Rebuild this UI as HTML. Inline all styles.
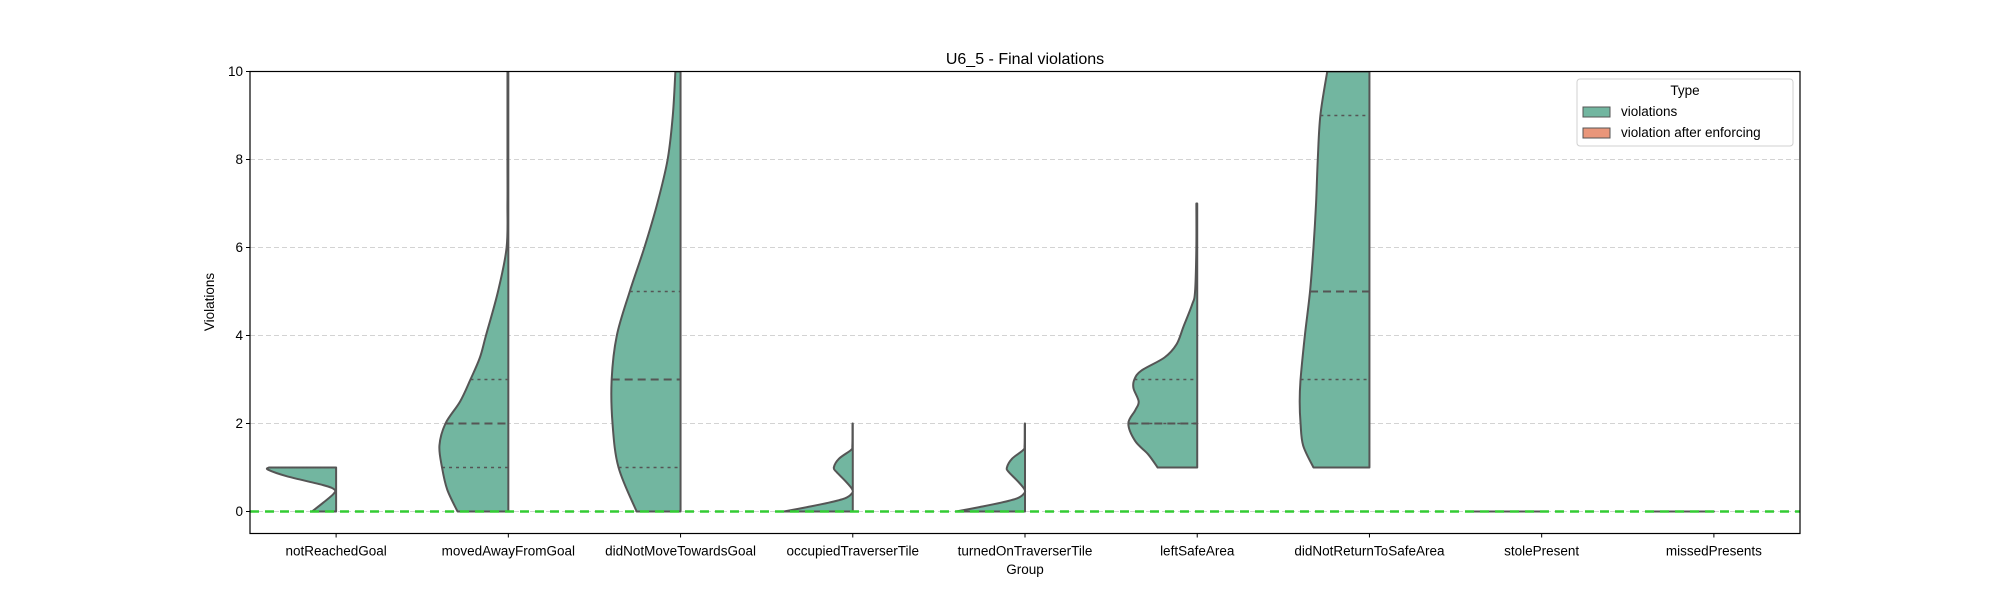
<!DOCTYPE html>
<html><head><meta charset="utf-8"><style>
html,body{margin:0;padding:0;background:#fff;}
svg{display:block;font-family:"Liberation Sans","DejaVu Sans",sans-serif;}
</style></head><body>
<svg id="chart" width="2000" height="600" viewBox="0 0 2000 600" xmlns="http://www.w3.org/2000/svg">
<defs><clipPath id="plotclip"><rect x="250" y="71.5" width="1550" height="462"/></clipPath></defs>
<text x="1025" y="64" text-anchor="middle" font-size="16" fill="#000">U6_5 - Final violations</text>
<g id="grid"></g>
<g id="violins" clip-path="url(#plotclip)"></g>
<g id="axes"></g>
<text x="1025" y="574" text-anchor="middle" font-size="13.5">Group</text>
<text transform="translate(214,302) rotate(-90)" text-anchor="middle" font-size="13.5">Violations</text>
<g>
<rect x="1577" y="79" width="216" height="67" rx="3" fill="#fff" fill-opacity="0.8" stroke="#d0d0d0"/>
<text x="1685" y="95" text-anchor="middle" font-size="13.5">Type</text>
<rect x="1583" y="107" width="27" height="10" fill="#72b6a0" stroke="#555"/>
<text x="1621" y="116" font-size="13.5">violations</text>
<rect x="1583" y="128" width="27" height="10" fill="#e9967a" stroke="#555"/>
<text x="1621" y="137" font-size="13.5">violation after enforcing</text>
</g>
</svg>
<script>
const categories = ["notReachedGoal","movedAwayFromGoal","didNotMoveTowardsGoal","occupiedTraverserTile","turnedOnTraverserTile","leftSafeArea","didNotReturnToSafeArea","stolePresent","missedPresents"];
const yTicks = [0,2,4,6,8,10];
// density profiles: y values and relative half-widths (0..1)
const profY = [
 [0,0.2,0.4,0.5,0.6,0.8,0.95,1],
 [0,0.5,1,1.5,2,2.5,3,3.5,4,5,6,7,8,10],
 [0,1,2,3,4,5,6,7,8,9,10],
 [0,0.1,0.2,0.3,0.4,0.5,0.7,0.9,1.0,1.2,1.4,1.5,2],
 [0,0.1,0.2,0.3,0.4,0.5,0.7,0.9,1.0,1.2,1.4,1.5,2],
 [1,1.3,1.6,2,2.3,2.5,2.8,3,3.2,3.5,3.8,4.2,4.7,5,6,7],
 [1,1.5,2,2.5,3,4,5,6,7,8,9,10],
 [0,0.001],
 [0,0.001]
];
const profW = [
 [0.28,0.15,0.03,0.02,0.15,0.57,0.79,0.78],
 [0.59,0.71,0.77,0.80,0.73,0.56,0.44,0.33,0.26,0.12,0.02,0.01,0.01,0.01],
 [0.51,0.72,0.79,0.80,0.74,0.59,0.42,0.27,0.15,0.09,0.06],
 [0.80,0.53,0.28,0.09,0.015,0.005,0.09,0.19,0.22,0.16,0.02,0.005,0.003],
 [0.80,0.53,0.28,0.09,0.015,0.005,0.09,0.19,0.21,0.15,0.02,0.005,0.003],
 [0.46,0.57,0.72,0.80,0.72,0.68,0.74,0.73,0.65,0.38,0.24,0.16,0.06,0.025,0.01,0.01],
 [0.65,0.77,0.80,0.81,0.80,0.75,0.69,0.65,0.62,0.60,0.57,0.49],
 [0.79,0.79],
 [0.79,0.79]
];
const q1 = [1,1,1,0,0,2,3,0,0];
const medians = [1,2,3,0,0,2,5,0,0];
const q3 = [1,3,5,0,0,3,9,0,0];

const X0=250, X1=1800, Y0=71.5, Y1=533.5, YMIN=-0.5, YMAX=10;
const band=(X1-X0)/categories.length, halfMax=band/2;
const xc=i=>X0+band*(i+0.5);
const ys=v=>Y1-(v-YMIN)/(YMAX-YMIN)*(Y1-Y0);
const NS="http://www.w3.org/2000/svg";
function mk(tag,attrs,parent){const e=document.createElementNS(NS,tag);for(const k in attrs)e.setAttribute(k,attrs[k]);parent.appendChild(e);return e;}
const grid=document.getElementById('grid'),vg=document.getElementById('violins'),ax=document.getElementById('axes');

yTicks.forEach(t=>{
 const g=mk('line',{x1:X0,x2:X1,y1:ys(t),y2:ys(t),stroke:'#d3d3d3','stroke-dasharray':'5,3','stroke-width':1},grid);
 
 
 const tk=mk('line',{x1:X0-4,x2:X0,y1:ys(t),y2:ys(t),stroke:'#000'},ax);
 
 
 const tl=mk('text',{x:X0-7,y:ys(t)+4.5,'text-anchor':'end','font-size':13.5},ax);
 tl.textContent=t;
 
 
});

function widthAt(i,y){const Y=profY[i],W=profW[i];if(y<=Y[0])return W[0];for(let k=1;k<Y.length;k++){if(y<=Y[k]){const f=(y-Y[k-1])/(Y[k]-Y[k-1]);return W[k-1]+f*(W[k]-W[k-1]);}}return W[W.length-1];}

// smooth path via Catmull-Rom through profile points
function smoothPath(pts){let d='';for(let k=0;k<pts.length-1;k++){const p0=pts[Math.max(0,k-1)],p1=pts[k],p2=pts[k+1],p3=pts[Math.min(pts.length-1,k+2)];
 const c1=[p1[0]+(p2[0]-p0[0])/6,p1[1]+(p2[1]-p0[1])/6],c2=[p2[0]-(p3[0]-p1[0])/6,p2[1]-(p3[1]-p1[1])/6];
 d+=' C'+c1[0]+','+c1[1]+' '+c2[0]+','+c2[1]+' '+p2[0]+','+p2[1];}return d;}

categories.forEach((c,i)=>{
 const cx=xc(i),Y=profY[i],W=profW[i];
 const pts=Y.map((y,k)=>[cx-W[k]*halfMax,ys(y)]);
 let d='M'+cx+','+ys(Y[0])+' L'+pts[0][0]+','+pts[0][1]+smoothPath(pts)+' L'+cx+','+ys(Y[Y.length-1])+' Z';
 const p=mk('path',{d:d,fill:'#72b6a0',stroke:'#555','stroke-width':2,'stroke-linejoin':'round'},vg);
 
 
 [[q1[i],'3,4',1.5,'q1'],[medians[i],'8,5',2,'median'],[q3[i],'3,4',1.5,'q3']].forEach(([v,da,sw,nm])=>{
  const w=widthAt(i,v);
  const l=mk('line',{x1:cx-w*halfMax,x2:cx,y1:ys(v),y2:ys(v),stroke:'#555','stroke-width':sw,'stroke-dasharray':da},vg);
  
  
 });
 const tk=mk('line',{x1:cx,x2:cx,y1:Y1,y2:Y1+4,stroke:'#000'},ax);
 
 
 const tl=mk('text',{x:cx,y:Y1+22,'text-anchor':'middle','font-size':13.5},ax);
 tl.textContent=c;
 
 
});
const zl=mk('line',{x1:X0,x2:X1,y1:ys(0),y2:ys(0),stroke:'#33cc33','stroke-width':2.5,'stroke-dasharray':'9,6'},vg);


const fr=mk('rect',{x:X0,y:Y0,width:X1-X0,height:Y1-Y0,fill:'none',stroke:'#000','stroke-width':1.2},ax);


</script>
</body></html>
